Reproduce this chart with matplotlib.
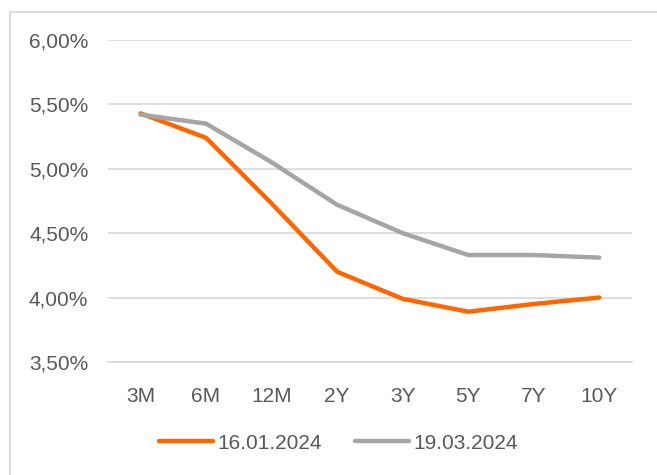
import matplotlib.pyplot as plt
from matplotlib.lines import Line2D
from matplotlib.ticker import FuncFormatter

# tenors and yields (%)
tenors = ['3M', '6M', '12M', '2Y', '3Y', '5Y', '7Y', '10Y']
curve_jan = [5.43, 5.24, 4.73, 4.20, 3.99, 3.89, 3.95, 4.00]
curve_mar = [5.42, 5.35, 5.05, 4.72, 4.50, 4.33, 4.33, 4.31]
labels = ['16.01.2024', '19.03.2024']

plt.rcParams['font.family'] = ['Liberation Sans', 'DejaVu Sans']

fig = plt.figure(figsize=(6.57, 4.75), dpi=100)
ax = fig.add_axes([0.164, 0.238, 0.798, 0.678])

x = range(len(tenors))
ax.plot(x, curve_jan, color='#FF6600', lw=3.2, solid_capstyle='round', label=labels[0])
ax.plot(x, curve_mar, color='#A5A5A5', lw=3.2, solid_capstyle='round', label=labels[1])

ax.set_xlim(-0.5, len(tenors) - 0.5)
ax.set_ylim(3.5, 6.0)
ax.set_yticks([3.5, 4.0, 4.5, 5.0, 5.5, 6.0])
ax.yaxis.set_major_formatter(FuncFormatter(lambda v, p: f'{v:.2f}%'.replace('.', ',')))
ax.set_xticks(list(x))
ax.set_xticklabels(tenors)
ax.grid(axis='y', color='#D9D9D9', lw=1.2)
ax.set_axisbelow(True)
for s in ['top', 'right', 'left']:
    ax.spines[s].set_visible(False)
ax.spines['bottom'].set_color('#D9D9D9')
ax.spines['bottom'].set_linewidth(1.2)
ax.tick_params(length=0, labelsize=15, colors='#595959')
ax.tick_params(axis='x', pad=18)
ax.tick_params(axis='y', pad=14)

fig.legend(loc='center', bbox_to_anchor=(0.515, 0.067), ncol=2, frameon=False,
           fontsize=15, labelcolor='#595959', handlelength=2.6, handletextpad=0.2,
           columnspacing=1.6)

# chart-area border (only left and top edges are visible in the crop)
bx, by = 9.5 / 657, 1 - 11.5 / 475
fig.add_artist(Line2D([bx, bx], [0, by], transform=fig.transFigure,
                      color='#D9D9D9', lw=1.3))
fig.add_artist(Line2D([bx, 1], [by, by], transform=fig.transFigure,
                      color='#D9D9D9', lw=1.3))

fig.savefig('out.png', dpi=100)
